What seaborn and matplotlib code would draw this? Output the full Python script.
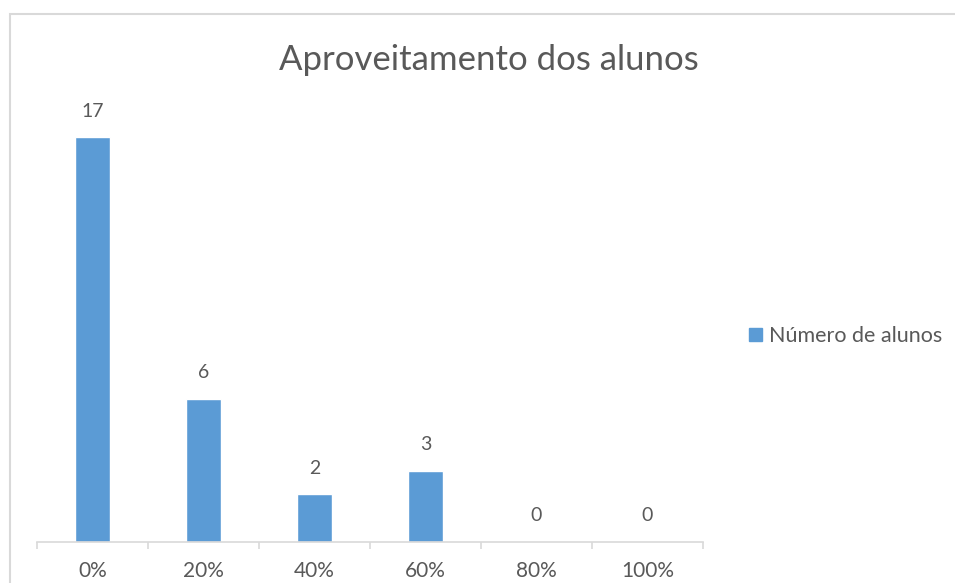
import pandas as pd
import seaborn as sns
import matplotlib.pyplot as plt
from matplotlib.patches import Rectangle, Patch
import numpy as np

categorias = ['0%', '20%', '40%', '60%', '80%', '100%']
num_alunos = [17, 6, 2, 3, 0, 0]

df = pd.DataFrame({'aproveitamento': categorias, 'alunos': num_alunos})

sns.set_style('white')
plt.rcParams['font.family'] = ['Lato', 'DejaVu Sans']

azul = '#5B9BD5'
cinza = '#595959'
linha = '#D9D9D9'

fig = plt.figure(figsize=(9.55, 5.83), dpi=100)
W, H = 955, 583
ax = fig.add_axes([37 / W, 1 - 542 / H, (703 - 37) / W, (542 - 113.6) / H])

sns.barplot(data=df, x='aproveitamento', y='alunos', color=azul, width=0.31,
            saturation=1, ax=ax)

ax.set_xlim(-0.5, len(categorias) - 0.5)
ax.set_ylim(0, 18)

for i, v in enumerate(num_alunos):
    ax.text(i, v + 0.75, str(v), ha='center', va='bottom', fontsize=14,
            color=cinza, clip_on=False)

ax.set_xlabel('')
ax.set_ylabel('')
ax.set_yticks([])
ax.set_xticks(range(len(categorias)))
ax.set_xticklabels(categorias, fontsize=15, color=cinza)
ax.set_xticks(np.arange(-0.5, len(categorias), 1), minor=True)
ax.tick_params(axis='x', which='major', length=0, pad=14)
ax.tick_params(axis='x', which='minor', length=5, color=linha, width=1.2,
               direction='out', bottom=True)

for s in ['top', 'left', 'right']:
    ax.spines[s].set_visible(False)
ax.spines['bottom'].set_color(linha)
ax.spines['bottom'].set_linewidth(1.2)

fig.text(489 / W, 1 - 60 / H, 'Aproveitamento dos alunos', ha='center',
         va='center', fontsize=25, color=cinza)

handle = Patch(color=azul, label='Número de alunos')
fig.legend(handles=[handle], loc='center left',
           bbox_to_anchor=(730 / W, 1 - 336 / H), frameon=False,
           fontsize=15.5, labelcolor=cinza, handlelength=0.6,
           handleheight=0.6, handletextpad=0.3)

fig.patches.append(Rectangle((10 / W, -0.1), 1.2, 1 - 14 / H + 0.1,
                             transform=fig.transFigure, fill=False,
                             edgecolor=linha, linewidth=1.5))

plt.savefig('out.png', dpi=100)
